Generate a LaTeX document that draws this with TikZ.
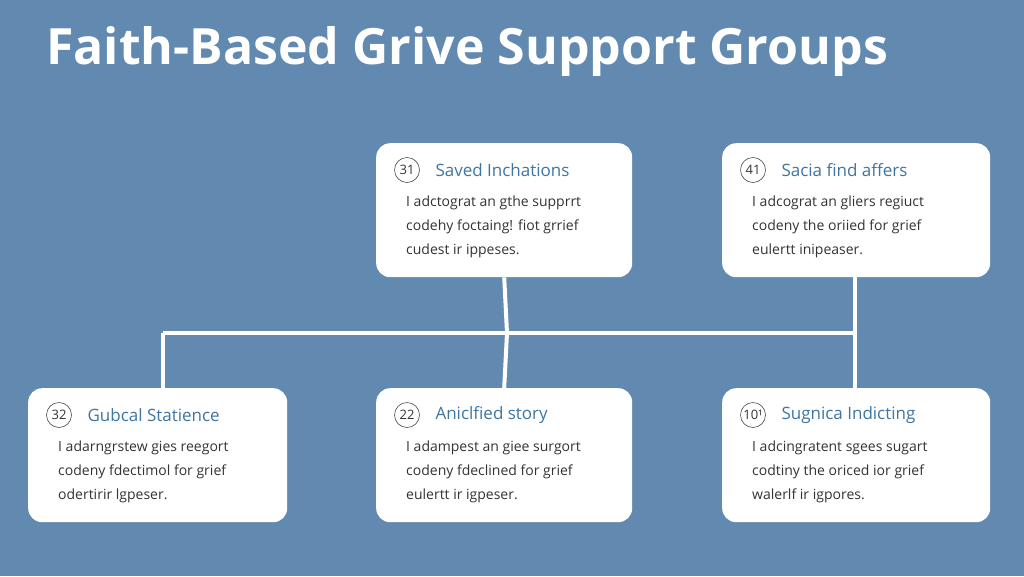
\documentclass[tikz,border=0pt]{standalone}
\usepackage{fontspec}
\setmainfont{Open Sans}
\usetikzlibrary{calc}
\begin{document}
\begin{tikzpicture}[x=1pt,y=-1pt,
 card/.style={fill=white,rounded corners=14pt,draw=none},
 num/.style={circle,draw=black!70,line width=0.6pt,minimum size=25pt,inner sep=0pt,font=\fontsize{13}{13}\selectfont,text=black!80},
 ttl/.style={anchor=west,font=\fontsize{17}{17}\selectfont,text=ttlc},
 body/.style={anchor=north west,align=left,font=\fontsize{14}{24}\selectfont,text=black!80,inner sep=0pt},
 conn/.style={draw=white,line width=4pt}]
\definecolor{bg}{HTML}{6289B0}
\definecolor{ttlc}{HTML}{3F75A3}
\fill[bg] (0,0) rectangle (1024,576);
\useasboundingbox (0,0) rectangle (1024,576);
\node[anchor=west,text=white,font=\bfseries\fontsize{50}{50}\selectfont,inner sep=0pt] (title) at (46,52) {Faith-Based Grive Support Groups};
\coordinate (h1) at (163,333); \coordinate (h2) at (507,333); \coordinate (h3) at (855,333);
\draw[conn] (h1) -- (h3);
\node[card,minimum width=256pt,minimum height=134pt,anchor=north west] (c1) at (376,143) {};
\node[card,minimum width=268pt,minimum height=134pt,anchor=north west] (c2) at (722,143) {};
\node[card,minimum width=259pt,minimum height=134pt,anchor=north west] (c3) at (28,388) {};
\node[card,minimum width=256pt,minimum height=134pt,anchor=north west] (c4) at (376,388) {};
\node[card,minimum width=268pt,minimum height=134pt,anchor=north west] (c5) at (722,388) {};
\draw[conn] (c1.south) -- (h2) -- (c4.north);
\draw[conn] (c2.south -| h3) -- (h3) -- (c5.north -| h3);
\draw[conn] (h1) -- (c3.north -| h1);
\foreach \c/\n/\t/\a/\b/\cc in {
 c1/31/Saved Inchations/{I adctograt an gthe supprrt}/{codehy foctaing! fiot grrief}/{cudest ir ippeses.},
 c2/41/Sacia find affers/{I adcograt an gliers regiuct}/{codeny the oriied for grief}/{eulertt inipeaser.},
 c3/32/Gubcal Statience/{I adarngrstew gies reegort}/{codeny fdectimol for grief}/{odertirir lgpeser.},
 c4/22/Aniclfied story/{I adampest an giee surgort}/{codeny fdeclined for grief}/{eulertt ir igpeser.},
 c5/10¹/Sugnica Indicting/{I adcingratent sgees sugart}/{codtiny the oriced ior grief}/{walerlf ir igpores.}}{
 \node[num] (\c n) at ($(\c.north west)+(31,27)$) {\n};
 \node[ttl] (\c t) at ($(\c.north west)+(56,27)$) {\t};
 \node[body] (\c b) at ($(\c.north west)+(30,53)$) {\a\\\b\\\cc};
}
\end{tikzpicture}
\end{document}
